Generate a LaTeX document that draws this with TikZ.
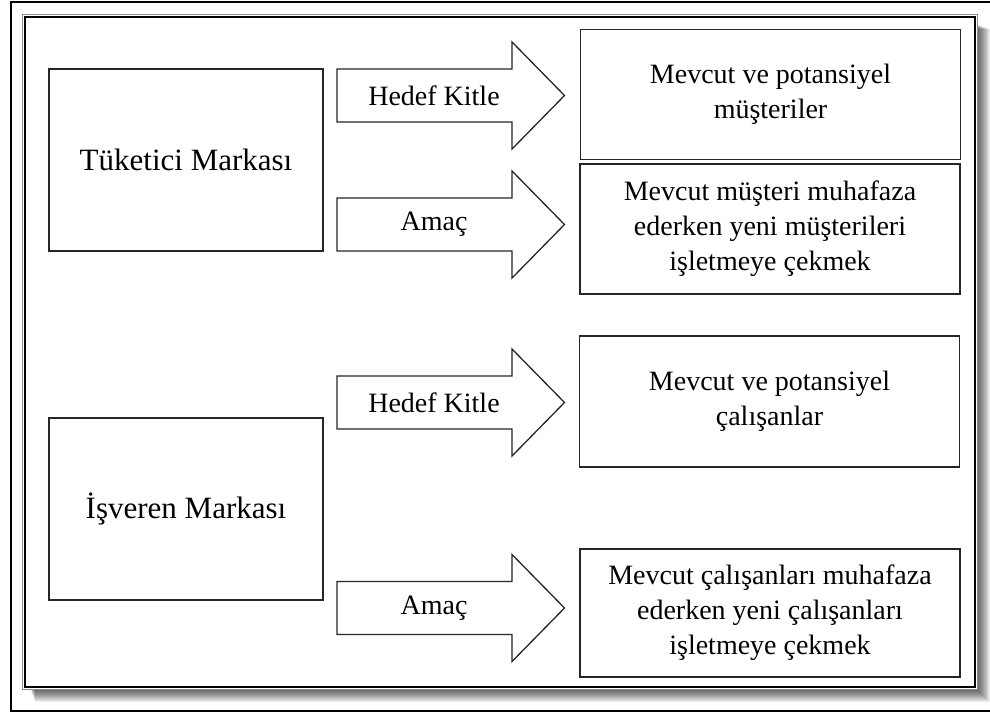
\documentclass[tikz,border=0pt]{standalone}
\usepackage{fontspec}
\setmainfont{Liberation Serif}
\begin{document}
\begin{tikzpicture}[x=1pt,y=-1pt,
  brandbox/.style={draw=black!85,line width=1.3pt,minimum width=274pt,minimum height=182pt,
    inner sep=0pt,font=\fontsize{31}{37}\selectfont},
  infobox/.style={draw=black!85,line width=1.3pt,minimum width=380pt,inner sep=0pt,
    align=center,font=\fontsize{28}{35}\selectfont},
  blockarrow/.style={draw=black!85,line width=1.3pt,fill=white,line join=miter},
  arrowtext/.style={inner sep=0pt,font=\fontsize{28}{33}\selectfont}]
\useasboundingbox (0,0) rectangle (990,713);
\clip (0,0) rectangle (990,713);

% outer page frame
\draw[line width=1.1pt] (11,2) rectangle (1005,711);

% soft shadow of the framed panel, built from stacked translucent layers
\foreach \i in {0,...,13}{
  \fill[black,opacity=0.065] (30+\i*0.4,24+\i*0.4) rectangle (977+\i,689+\i);
}

% framed panel
\fill[white] (22,14) rectangle (977,689);
\draw[black!45,line width=0.9pt] (22,14) rectangle (977,689);
\draw[black,line width=2pt] (24.5,16.5) rectangle (974.5,686.5);

% brand boxes
\node[brandbox,minimum height=182pt] (tuketici) at (186,160) {Tüketici Markası};
\node[brandbox,minimum height=182pt] (isveren) at (186,509) {İşveren Markası};

% target / goal boxes
\node[infobox,minimum height=130pt] (hedef1) at (770.5,94.5) {Mevcut ve potansiyel\\müşteriler};
\node[infobox,minimum height=130pt] (amac1) at (770,229) {Mevcut müşteri muhafaza\\ederken yeni müşterileri\\işletmeye çekmek};
\node[infobox,minimum height=131pt] (hedef2) at (769.5,401.5) {Mevcut ve potansiyel\\çalışanlar};
\node[infobox,minimum height=128pt] (amac2) at (770,613) {Mevcut çalışanları muhafaza\\ederken yeni çalışanları\\işletmeye çekmek};

% block arrows with their labels
\foreach \n/\cy/\lbl in {ahedef1/95.5/Hedef Kitle, aamac1/224.5/Amaç, ahedef2/402.5/Hedef Kitle, aamac2/608/Amaç}{
  \draw[blockarrow] (337,\cy-26.5) -- (512,\cy-26.5) -- (512,\cy-53.5) -- (564.5,\cy)
    -- (512,\cy+53.5) -- (512,\cy+26.5) -- (337,\cy+26.5) -- cycle;
  \node[arrowtext] (\n) at (434,\cy) {\lbl};
}
\end{tikzpicture}
\end{document}
